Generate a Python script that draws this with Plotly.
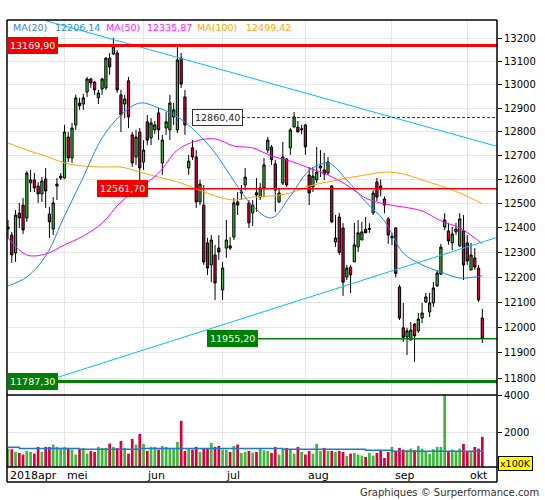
import math
import plotly.graph_objects as go

# daily candles (index 0 = first session shown)
opens = [12396, 12371, 12298, 12461, 12494, 12441, 12586, 12598, 12573, 12540,
         12602, 12457, 12396, 12573, 12606, 12606, 12778, 12690, 12829, 12922,
         12918, 12969, 13025, 13012, 12944, 12982, 12987, 13115, 13133, 13137,
         12957, 12918, 13017, 12787, 12694, 12799, 12673, 12842, 12774, 12808,
         12880, 12669, 12816, 12808, 12863, 12808, 13115, 12948, 12648, 12732,
         12694, 12507, 12494, 12339, 12250, 12290, 12318, 12149, 12318, 12327,
         12363, 12507, 12544, 12577, 12503, 12462, 12545, 12527, 12565, 12723,
         12736, 12665, 12507, 12585, 12686, 12732, 12820, 12820, 12808, 12829,
         12619, 12569, 12598, 12648, 12640, 12627, 12573, 12343, 12445, 12400,
         12201, 12241, 12262, 12323, 12351, 12395, 12394, 12462, 12590, 12573,
         12519, 12437, 12360, 12400, 12161, 11998, 11962, 11950, 12013, 11986,
         12037, 12101, 12061, 12097, 12165, 12213, 12404, 12388, 12339, 12384,
         12327, 12388, 12339, 12229, 12278, 12237, 12037]
highs = [12433, 12384, 12474, 12503, 12523, 12635, 12640, 12627, 12590, 12610,
         12648, 12486, 12527, 12606, 12627, 12829, 12799, 12837, 12957, 12944,
         12961, 13034, 13030, 13017, 12978, 13030, 13120, 13137, 13203, 13150,
         12978, 12957, 13034, 12799, 12808, 12816, 12765, 12871, 12858, 12846,
         12901, 12787, 12884, 12957, 12922, 13164, 13137, 12978, 12703, 12765,
         12723, 12598, 12577, 12360, 12371, 12331, 12371, 12262, 12433, 12363,
         12523, 12548, 12577, 12648, 12515, 12515, 12606, 12585, 12690, 12778,
         12744, 12682, 12565, 12757, 12690, 12816, 12884, 12846, 12829, 12833,
         12652, 12652, 12736, 12723, 12711, 12694, 12577, 12453, 12462, 12420,
         12250, 12250, 12421, 12433, 12425, 12445, 12420, 12556, 12606, 12600,
         12530, 12445, 12380, 12404, 12169, 12097, 11998, 12021, 12017, 12057,
         12097, 12137, 12137, 12181, 12229, 12335, 12461, 12421, 12404, 12421,
         12461, 12453, 12371, 12339, 12318, 12250, 12073]
lows = [12355, 12258, 12262, 12400, 12375, 12425, 12548, 12548, 12503, 12507,
        12482, 12359, 12371, 12515, 12598, 12602, 12673, 12669, 12808, 12893,
        12893, 12948, 12987, 12957, 12918, 12957, 12978, 13043, 13128, 12965,
        12799, 12858, 12816, 12652, 12660, 12548, 12640, 12744, 12744, 12790,
        12765, 12619, 12787, 12765, 12829, 12795, 12986, 12787, 12619, 12682,
        12482, 12494, 12250, 12209, 12181, 12109, 12270, 12109, 12278, 12310,
        12351, 12453, 12515, 12556, 12400, 12408, 12466, 12515, 12527, 12711,
        12661, 12466, 12503, 12577, 12569, 12703, 12820, 12799, 12790, 12703,
        12494, 12548, 12585, 12610, 12598, 12619, 12421, 12323, 12290, 12125,
        12189, 12137, 12262, 12302, 12351, 12384, 12380, 12453, 12510, 12530,
        12460, 12335, 12330, 12200, 12029, 11943, 11891, 11950, 11864, 11978,
        12017, 12097, 12041, 12081, 12161, 12209, 12392, 12331, 12310, 12371,
        12323, 12189, 12250, 12229, 12229, 12101, 11938]
closes = [12404, 12290, 12453, 12441, 12392, 12627, 12598, 12565, 12540, 12594,
          12552, 12425, 12503, 12581, 12614, 12799, 12690, 12816, 12944, 12910,
          12944, 13025, 13008, 12978, 12965, 13025, 13115, 13077, 13165, 12978,
          12872, 12939, 12863, 12669, 12778, 12648, 12723, 12765, 12837, 12829,
          12808, 12765, 12842, 12922, 12893, 13107, 13003, 12829, 12677, 12694,
          12507, 12581, 12262, 12237, 12351, 12177, 12302, 12237, 12351, 12318,
          12503, 12494, 12548, 12610, 12421, 12494, 12536, 12565, 12661, 12765,
          12682, 12556, 12544, 12694, 12577, 12808, 12863, 12799, 12812, 12736,
          12544, 12614, 12631, 12656, 12623, 12673, 12425, 12359, 12300, 12180,
          12237, 12209, 12331, 12380, 12384, 12380, 12398, 12544, 12527, 12560,
          12494, 12371, 12366, 12215, 12037, 11960, 11986, 11989, 11966, 12033,
          12057, 12121, 12097, 12157, 12217, 12322, 12433, 12347, 12375, 12396,
          12437, 12250, 12266, 12290, 12241, 12109, 11955]
volume = [1143, 1107, 964, 911, 821, 1018, 964, 875, 1232, 964,
          1232, 1232, 1357, 1232, 1179, 1232, 1179, 1089, 821, 1107,
          1179, 875, 1018, 964, 1232, 1179, 1179, 1411, 1232, 1179,
          1554, 1179, 875, 1661, 1357, 1929, 1393, 1018, 1232, 1232,
          1089, 1286, 1232, 1179, 1179, 1500, 2625, 1018, 1143, 1089,
          1232, 964, 1179, 1143, 1446, 1232, 1286, 1089, 1089, 964,
          1286, 1357, 911, 964, 1018, 929, 964, 1143, 1054, 1018,
          911, 1232, 821, 1089, 1179, 1107, 875, 1232, 964, 821,
          1018, 875, 1393, 1018, 1179, 1018, 1018, 964, 1018, 964,
          750, 875, 911, 821, 768, 696, 911, 768, 911, 1018,
          643, 964, 1232, 1018, 1179, 1089, 1054, 1143, 1054, 1286,
          1143, 1018, 875, 1107, 1232, 1232, 4000, 1018, 1089, 1018,
          1143, 1393, 1018, 1018, 1232, 1143, 1768]

# moving averages at sample sessions
ma_idx = [0, 5, 10, 15, 20, 25, 30, 35, 40, 45, 50, 55, 60, 65, 70, 75, 80,
          85, 90, 95, 100, 105, 110, 115, 120, 126]
ma20 = [12165, 12201, 12286, 12449, 12610, 12774, 12871, 12922, 12901, 12863,
        12799, 12711, 12594, 12490, 12441, 12532, 12636, 12669, 12598, 12507,
        12429, 12298, 12250, 12221, 12197, 12206.14]
ma50 = [12359, 12290, 12294, 12331, 12367, 12420, 12507, 12565, 12627, 12723,
        12761, 12770, 12740, 12732, 12698, 12677, 12648, 12619, 12577, 12523,
        12499, 12486, 12470, 12429, 12400, 12335.87]
ma100 = [12753, 12723, 12698, 12669, 12656, 12652, 12652, 12631, 12610, 12590,
         12561, 12532, 12515, 12527, 12532, 12544, 12573, 12590, 12606, 12619,
         12631, 12623, 12598, 12573, 12544, 12499.42]
vol_avg_idx = [0, 3, 19, 35, 73, 95, 102, 126]
vol_avg = [1214, 1143, 1107, 1143, 1107, 1054, 1000, 1054]

# trend lines (two end points each) and horizontal levels
trend_hi_idx = [10, 130]
trend_hi_val = [13278, 12738]
trend_lo_idx = [4.25, 130]
trend_lo_val = [11762, 12362]
levels = [13169.90, 12561.70, 12860.40, 11955.20, 11787.30]
level_start = [-0.3, 23.6, 48.9, 52.9, -0.3]
level_text = ["13169,90", "12561,70", "12860,40", "11955,20", "11787,30"]

month_start = [15, 36, 57, 79, 102, 122]
month_names = ["mei", "jun", "jul", "aug", "sep", "okt"]
price_ticks = list(range(11800, 13201, 100))

GREEN = "#3cb93c"
RED = "#d8003f"
X_RANGE = [-0.27, 129.9]
Y_RANGE = [math.log10(11735), math.log10(13281)]
VOL_TOP = 72 / 447
FONT = "DejaVu Sans"

idx = list(range(len(closes)))
fig = go.Figure()

fig.add_trace(go.Candlestick(
    x=idx, open=opens, high=highs, low=lows, close=closes,
    increasing=dict(fillcolor=GREEN, line=dict(color="black", width=1)),
    decreasing=dict(fillcolor=RED, line=dict(color="black", width=1)),
    whiskerwidth=0, xaxis="x", yaxis="y", hoverinfo="skip"))

bar_colors = [GREEN if c >= o else RED for o, c in zip(opens, closes)]
fig.add_trace(go.Bar(x=idx, y=volume, marker=dict(color=bar_colors, line_width=0),
                     width=0.72, xaxis="x", yaxis="y2"))
fig.add_trace(go.Scatter(x=vol_avg_idx, y=vol_avg, mode="lines", line_shape="hv",
                         line=dict(color="#1e78d2", width=1.5), xaxis="x", yaxis="y2"))

for vals, col in [(ma100, "#ffa500"), (ma50, "#ff00ff"), (ma20, "#1c86ee")]:
    fig.add_trace(go.Scatter(x=ma_idx, y=vals, mode="lines", line_shape="spline",
                             line=dict(color=col, width=1), xaxis="x", yaxis="y"))

for xs, ys in [(trend_hi_idx, trend_hi_val), (trend_lo_idx, trend_lo_val)]:
    fig.add_trace(go.Scatter(x=xs, y=ys, mode="lines", line=dict(color="#00bfff", width=1),
                             xaxis="x", yaxis="y"))

level_style = [("#ff0000", 3, "solid"), ("#ff0000", 1.5, "solid"), ("#333333", 1, "3px,2px"),
               ("#008000", 1.5, "solid"), ("#008000", 3, "solid")]
for lv, x0, (col, w, dash) in zip(levels, level_start, level_style):
    fig.add_trace(go.Scatter(x=[x0, X_RANGE[1]], y=[lv, lv], mode="lines",
                             line=dict(color=col, width=w, dash=dash), xaxis="x", yaxis="y"))

annotations = []
label_bg = ["#f00000", "#f00000", "white", "#008000", "#008000"]
for lv, x0, txt, bg in zip(levels, level_start, level_text, label_bg):
    dark = bg == "white"
    annotations.append(dict(
        x=max(x0, X_RANGE[0]), y=math.log10(lv), xref="x", yref="y", text=txt,
        showarrow=False, xanchor="left", yanchor="middle",
        font=dict(family=FONT, size=9.5, color="#222222" if dark else "white"),
        bgcolor=bg, bordercolor="#333333" if dark else bg, borderwidth=1, borderpad=2))

legend = [("MA(20)", "#3a7fd8", 13), ("12206,14", "#2a8ae0", 55),
          ("MA(50)", "#ff22ff", 106), ("12335,87", "#ff22ff", 147),
          ("MA(100)", "#ffa500", 197), ("12499,42", "#ffa500", 246)]
for txt, col, px in legend:
    annotations.append(dict(x=(px - 7) / 490, y=(467 - 27) / 447, xref="paper", yref="paper",
                            text=txt, showarrow=False, xanchor="left", yanchor="middle",
                            xshift=-2, font=dict(family=FONT, size=9.5, color=col)))

annotations.append(dict(x=X_RANGE[0], y=(467 - 475) / 447, xref="x", yref="paper",
                        text="2018apr", showarrow=False, xanchor="left", yanchor="middle",
                        xshift=1, font=dict(family=FONT, size=11, color="black")))
for m, name in zip(month_start, month_names):
    annotations.append(dict(x=m, y=(467 - 475) / 447, xref="x", yref="paper", text=name,
                            showarrow=False, xanchor="left", yanchor="middle", xshift=1,
                            font=dict(family=FONT, size=11, color="black")))

annotations.append(dict(x=1, y=(467 - 463) / 447, xref="paper", yref="paper", text="x100K",
                        showarrow=False, xanchor="left", yanchor="middle", xshift=1,
                        font=dict(family=FONT, size=9.5, color="black"),
                        bgcolor="#ffff00", bordercolor="black", borderwidth=1, borderpad=1))
annotations.append(dict(x=(541 - 7) / 490, y=(467 - 492) / 447, xref="paper", yref="paper",
                        text="Graphiques \u00a9 Surperformance.com", showarrow=False,
                        xanchor="right", yanchor="middle",
                        font=dict(family=FONT, size=10, color="#333333")))

frame = dict(type="line", xref="paper", yref="paper", line=dict(color="black", width=1.5))
shapes = [
    dict(frame, x0=0, x1=1, y0=1, y1=1),
    dict(frame, x0=0, x1=0, y0=-15 / 447, y1=1),
    dict(frame, x0=1, x1=1, y0=-15 / 447, y1=1),
    dict(frame, x0=0, x1=1, y0=VOL_TOP, y1=VOL_TOP),
    dict(frame, x0=0, x1=1, y0=0, y1=0),
    dict(frame, x0=0, x1=1, y0=-15 / 447, y1=-15 / 447),
]

fig.update_layout(
    width=545, height=500, margin=dict(l=7, r=48, t=20, b=33),
    paper_bgcolor="white", plot_bgcolor="white", showlegend=False,
    font=dict(family=FONT, size=10, color="black"),
    boxgap=0.15,
    xaxis=dict(range=X_RANGE, tickvals=month_start, showticklabels=False, ticks="",
               showgrid=True, gridcolor="#e6e6e6", zeroline=False, anchor="y2",
               rangeslider=dict(visible=False), fixedrange=True),
    yaxis=dict(type="log", range=Y_RANGE, domain=[VOL_TOP, 1], side="right", anchor="x",
               tickvals=price_ticks, ticktext=[str(t) for t in price_ticks],
               ticks="outside", ticklen=4, tickcolor="black", showgrid=True,
               gridcolor="#e6e6e6", zeroline=False, tickfont=dict(size=10)),
    yaxis2=dict(range=[161, 4000], domain=[0, VOL_TOP], side="right", anchor="x",
                tickvals=[2000, 4000], ticks="outside", ticklen=4, tickcolor="black",
                showgrid=True, gridcolor="#e6e6e6", zeroline=False, tickfont=dict(size=10)),
    annotations=annotations, shapes=shapes,
)

# the page body has a default 8px margin; remove it so the chart sits at the window origin
fig.write_html("out.html", config={"displayModeBar": False},
               post_script="document.body.style.margin='0px';")
